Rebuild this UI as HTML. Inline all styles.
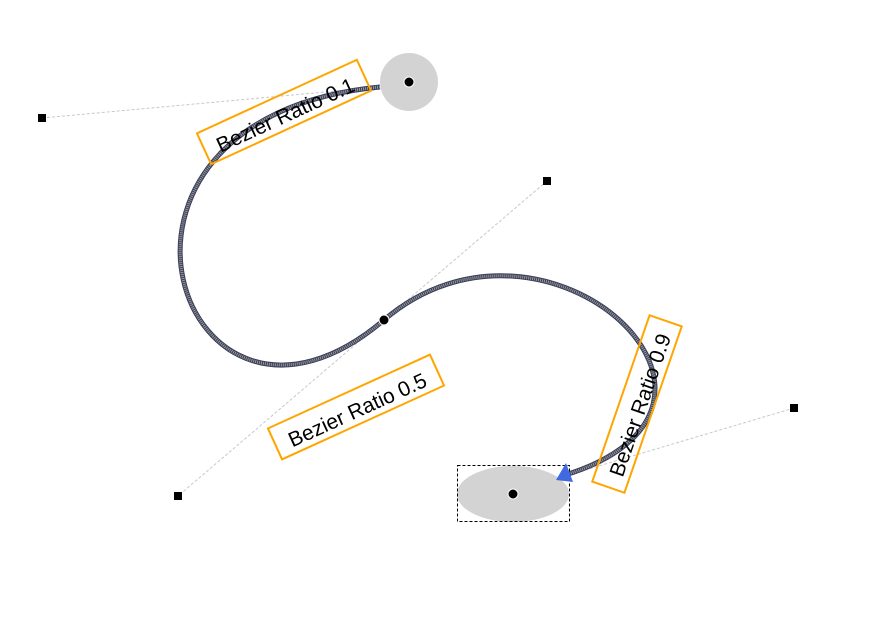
<!DOCTYPE html>
<html><head><style>html,body{margin:0;padding:0;background:#fff;}svg{display:block}</style></head>
<body>
<svg width="895" height="633" viewBox="0 0 895 633" xmlns="http://www.w3.org/2000/svg" font-family="Liberation Sans, sans-serif">
<g stroke="#c8c8c8" stroke-width="1" stroke-dasharray="3 2" fill="none">
<line x1="42" y1="118" x2="380" y2="87"/>
<line x1="547" y1="181" x2="178" y2="496"/>
<line x1="794" y1="408" x2="565" y2="476"/>
</g>
<circle cx="409" cy="82" r="29" fill="#d3d3d3"/>
<ellipse cx="513" cy="494" rx="56" ry="28" fill="#d3d3d3"/>
<rect x="457.5" y="465.5" width="112" height="56" fill="none" stroke="#000" stroke-dasharray="3 2"/>
<path d="M380,87 C52,118 182,492 384,320 C547,181 790,408 562,476" fill="none" stroke="#3a3f5a" stroke-width="5"/>
<path d="M380,87 C52,118 182,492 384,320 C547,181 790,408 562,476" fill="none" stroke="#999" stroke-width="3" stroke-dasharray="1 1"/>
<polygon points="556,480 566,463 573,482" fill="#4169e1"/>
<circle cx="409" cy="82" r="5" fill="#000" stroke="#fff" stroke-width="1"/>
<circle cx="513" cy="494" r="5" fill="#000" stroke="#fff" stroke-width="1"/>
<circle cx="384" cy="320" r="5" fill="#000" stroke="#fff" stroke-width="1"/>
<g fill="#000">
<rect x="38" y="114" width="8" height="8"/>
<rect x="543" y="177" width="8" height="8"/>
<rect x="174" y="492" width="8" height="8"/>
<rect x="790" y="404" width="8" height="8"/>
</g>
<g font-size="21" text-anchor="middle" dominant-baseline="central">
<g transform="translate(284,112) rotate(-24.7)"><rect x="-88" y="-17" width="176" height="34" fill="none" stroke="#ffa500" stroke-width="2"/><text x="0" y="4">Bezier Ratio 0.1</text></g>
<g transform="translate(356,407) rotate(-24.5)"><rect x="-89" y="-17" width="178" height="34" fill="none" stroke="#ffa500" stroke-width="2"/><text x="0" y="4">Bezier Ratio 0.5</text></g>
<g transform="translate(637,404) rotate(-71)"><rect x="-88" y="-17" width="176" height="34" fill="none" stroke="#ffa500" stroke-width="2"/><text x="0" y="4">Bezier Ratio 0.9</text></g>
</g>
</svg>
</body></html>
